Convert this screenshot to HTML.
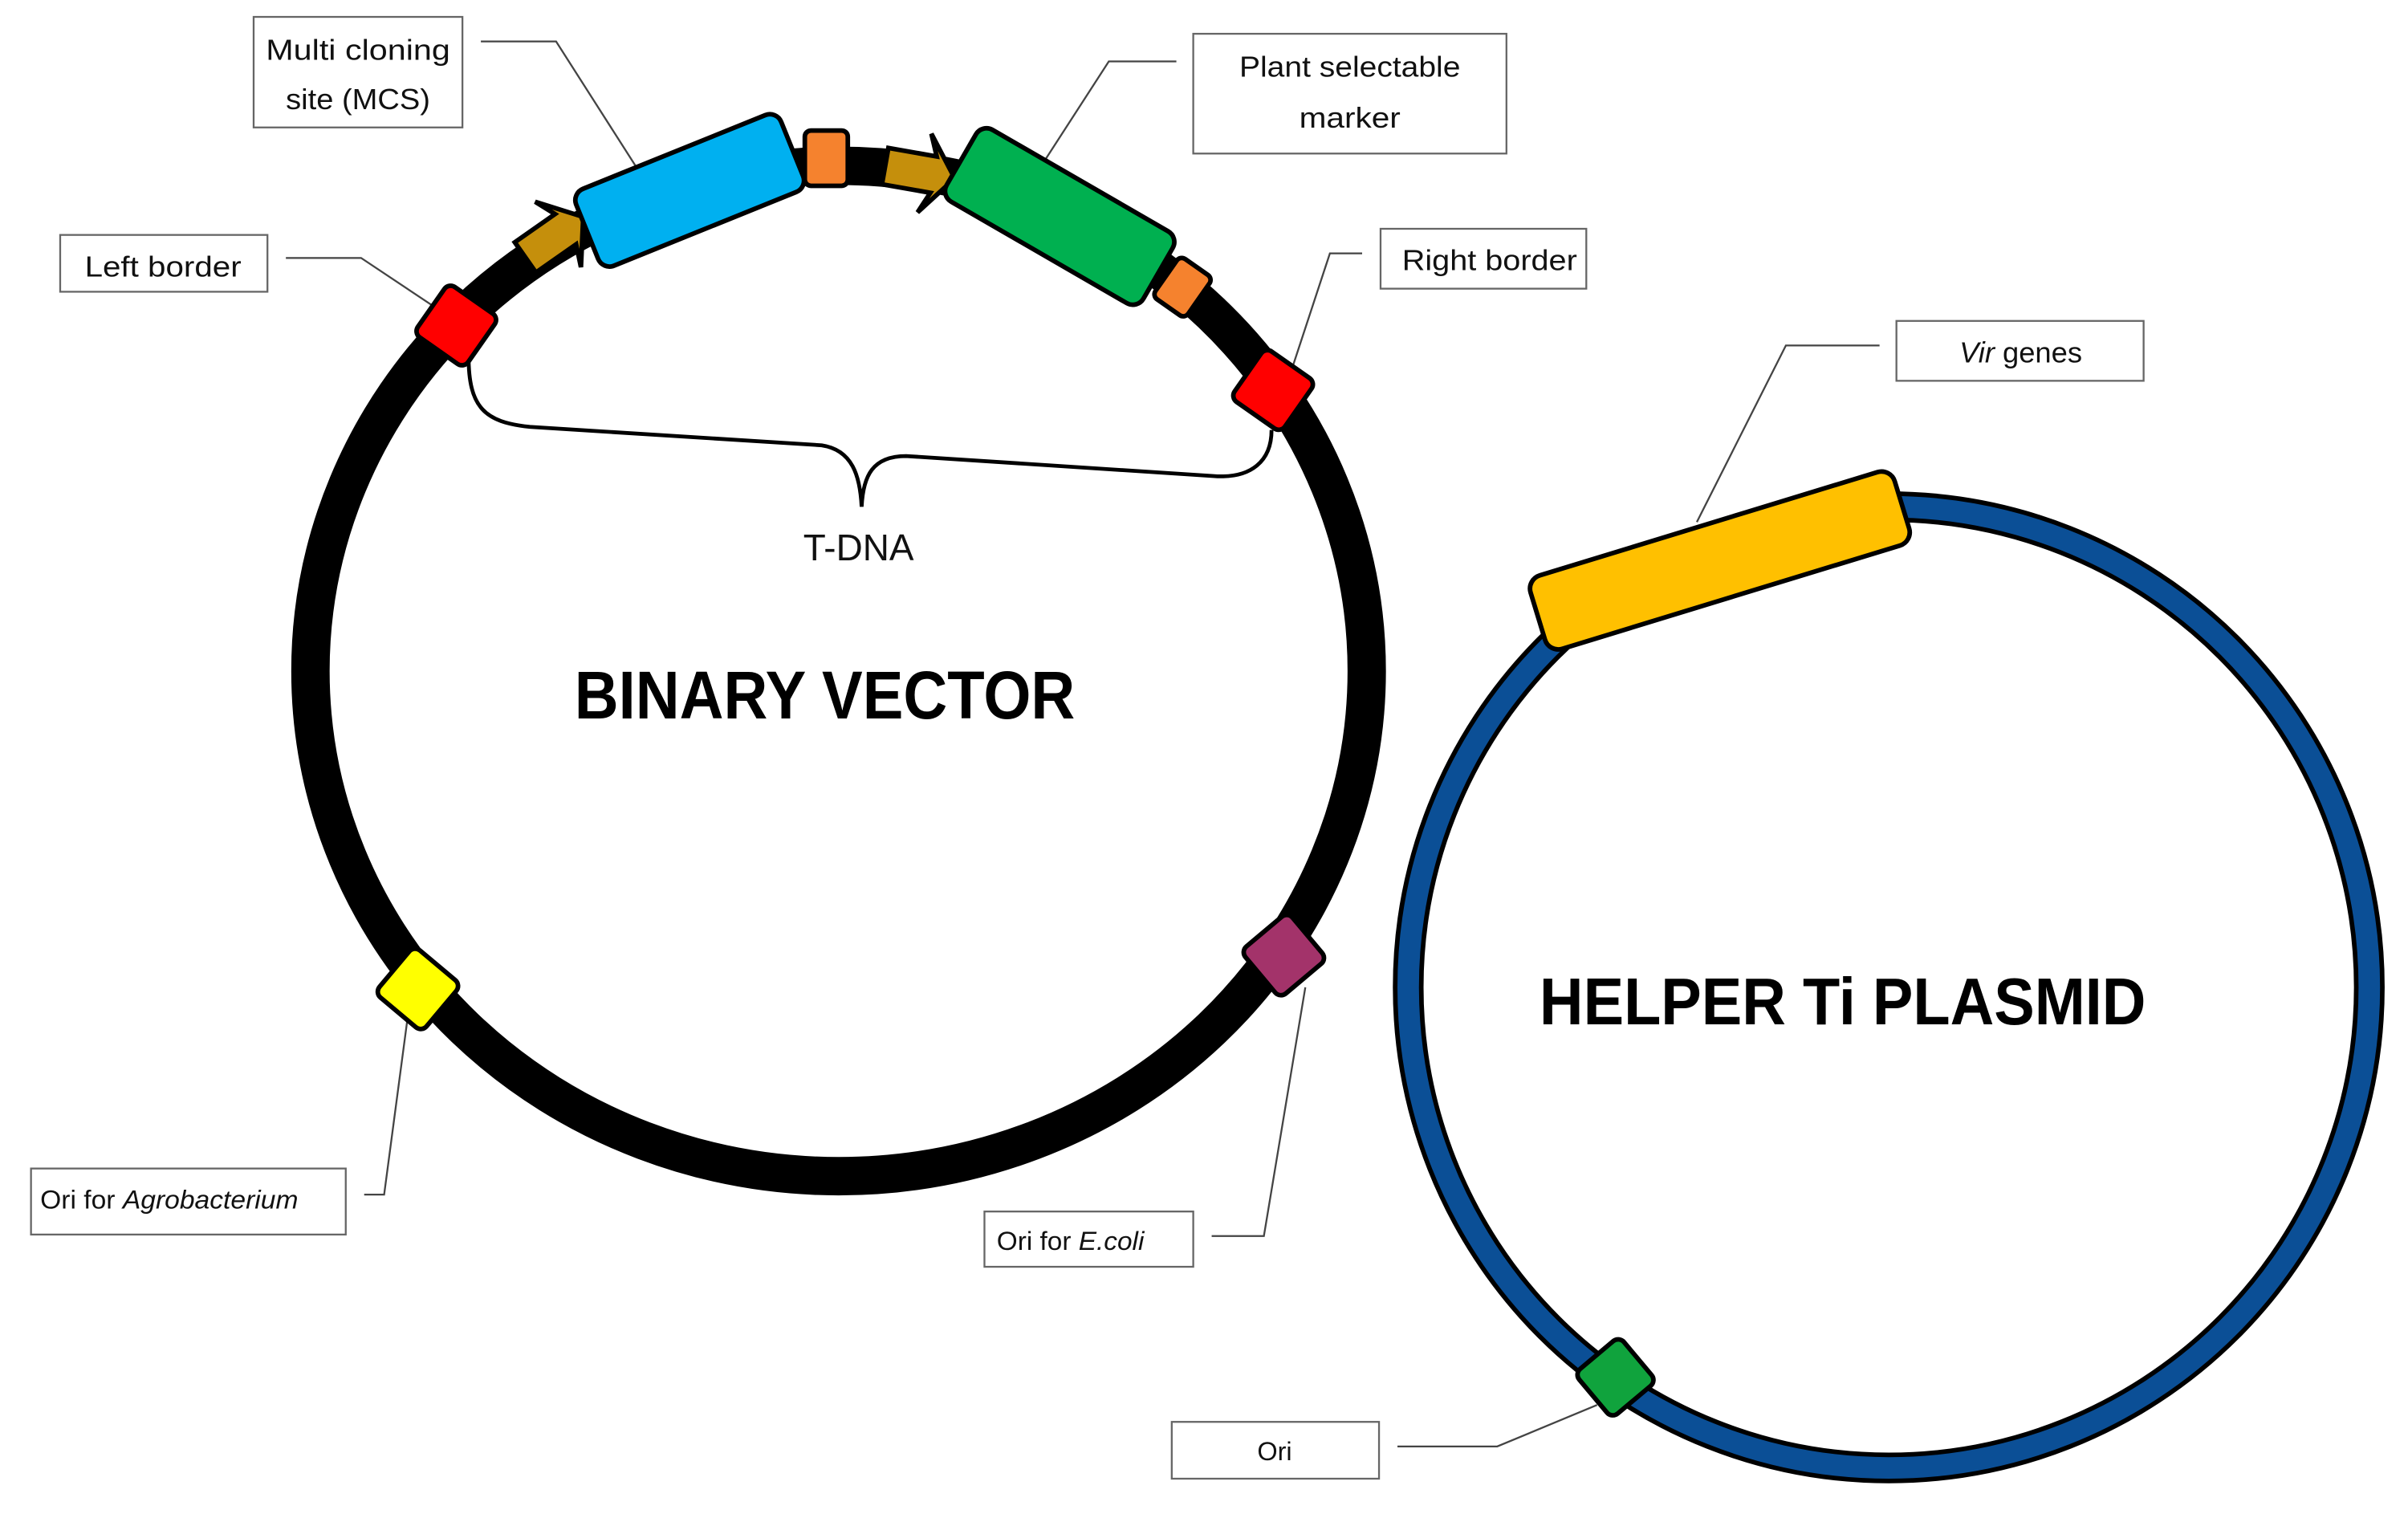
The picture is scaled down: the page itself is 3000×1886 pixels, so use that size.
<!DOCTYPE html>
<html><head><meta charset="utf-8"><style>
html,body{margin:0;padding:0;background:#fff;}
svg{display:block;}
text{font-family:"Liberation Sans",sans-serif;}
</style></head><body>
<svg width="3000" height="1886" viewBox="0 0 1568 986" xmlns="http://www.w3.org/2000/svg">
<rect width="1568" height="986" fill="#fff"/>
<g stroke="#444" stroke-width="1.2" fill="none">
<polyline points="313,27 362,27 415,110"/>
<polyline points="766,40 722,40 678,108"/>
<polyline points="186,168 235,168 283,200"/>
<polyline points="887,165 866,165 842,238"/>
<polyline points="1224,225 1163,225 1105,340"/>
<polyline points="237,778 250,778 265,665"/>
<polyline points="789,805 823,805 850,643"/>
<polyline points="910,942 975,942 1040,915"/>
</g>
<g fill="#fff" stroke="#666" stroke-width="1.2">
<rect x="165" y="11" width="136" height="72"/>
<rect x="777" y="22" width="204" height="78"/>
<rect x="39" y="153" width="135" height="37"/>
<rect x="899" y="149" width="134" height="39"/>
<rect x="1235" y="209" width="161" height="39"/>
<rect x="20" y="761" width="205" height="43"/>
<rect x="641" y="789" width="136" height="36"/>
<rect x="763" y="926" width="135" height="37"/>
</g>
<g font-size="19" fill="#111" text-anchor="middle">
<text x="233" y="39" textLength="120" lengthAdjust="spacingAndGlyphs">Multi cloning</text>
<text x="233" y="71" textLength="94" lengthAdjust="spacingAndGlyphs">site (MCS)</text>
<text x="879" y="50" textLength="144" lengthAdjust="spacingAndGlyphs">Plant selectable</text>
<text x="879" y="83" textLength="66" lengthAdjust="spacingAndGlyphs">marker</text>
<text x="106" y="180" textLength="102" lengthAdjust="spacingAndGlyphs">Left border</text>
<text x="970" y="176" textLength="114" lengthAdjust="spacingAndGlyphs">Right border</text>
<text x="1316" y="236"><tspan font-style="italic">Vir</tspan> genes</text>
<text x="110" y="787" font-size="17" textLength="168" lengthAdjust="spacingAndGlyphs">Ori for <tspan font-style="italic">Agrobacterium</tspan></text>
<text x="697" y="814" font-size="17" textLength="96" lengthAdjust="spacingAndGlyphs">Ori for <tspan font-style="italic">E.coli</tspan></text>
<text x="830" y="951" font-size="17">Ori</text>
</g>
<ellipse cx="546" cy="437" rx="344" ry="329" fill="none" stroke="#000" stroke-width="25"/>
<circle cx="1230" cy="643" r="313" fill="none" stroke="#000" stroke-width="20"/>
<circle cx="1230" cy="643" r="313" fill="none" stroke="#0b4f96" stroke-width="14"/>
<path d="M305,232 C305,265 315,275 345,278 L535,290 C555,293 560,310 561,330 C562,310 568,297 590,297 L790,310 C815,312 828,300 828,280" fill="none" stroke="#000" stroke-width="2.5"/>
<text x="559" y="365" font-size="24" text-anchor="middle" fill="#111">T-DNA</text>
<g stroke="#000" stroke-width="3">
<rect x="-20" y="-20" width="40" height="40" rx="5" fill="#ff0000" transform="translate(297,212) rotate(35)"/>
<rect x="-20" y="-20" width="40" height="40" rx="5" fill="#ff0000" transform="translate(829,254) rotate(35)"/>
<rect x="-20" y="-20" width="40" height="40" rx="5" fill="#ffff00" transform="translate(272,644) rotate(40)"/>
<rect x="-20" y="-20" width="40" height="40" rx="5" fill="#a3336a" transform="translate(836,622) rotate(-40)"/>
<rect x="-19" y="-19" width="38" height="38" rx="5" fill="#10a33d" transform="translate(1052,897) rotate(-40)"/>
<g transform="translate(360,155) rotate(-35)"><path d="M-22,-12 L10,-12 L4,-26 L24,0 L4,26 L10,12 L-22,12 Z" fill="#c58f0c"/></g>
<g transform="translate(598,112) rotate(10)"><path d="M-22,-12 L10,-12 L4,-26 L24,0 L4,26 L10,12 L-22,12 Z" fill="#c58f0c"/></g>
<rect x="-72" y="-27" width="144" height="54" rx="8" fill="#00b0f0" transform="translate(449,124) rotate(-22)"/>
<rect x="-14" y="-18" width="28" height="36" rx="4" fill="#f5822e" transform="translate(538,103)"/>
<rect x="-74" y="-27" width="148" height="54" rx="8" fill="#00b050" transform="translate(690,141) rotate(30)"/>
<rect x="-13" y="-16" width="26" height="32" rx="4" fill="#f5822e" transform="translate(770,187) rotate(35)"/>
<rect x="-124" y="-25" width="248" height="50" rx="9" fill="#ffc000" transform="translate(1120,365) rotate(-17)"/>
</g>
<text x="537" y="468" font-size="44" font-weight="bold" text-anchor="middle" fill="#000" textLength="326" lengthAdjust="spacingAndGlyphs">BINARY VECTOR</text>
<text x="1200" y="667" font-size="43" font-weight="bold" text-anchor="middle" fill="#000" textLength="395" lengthAdjust="spacingAndGlyphs">HELPER Ti PLASMID</text>
</svg>
</body></html>
